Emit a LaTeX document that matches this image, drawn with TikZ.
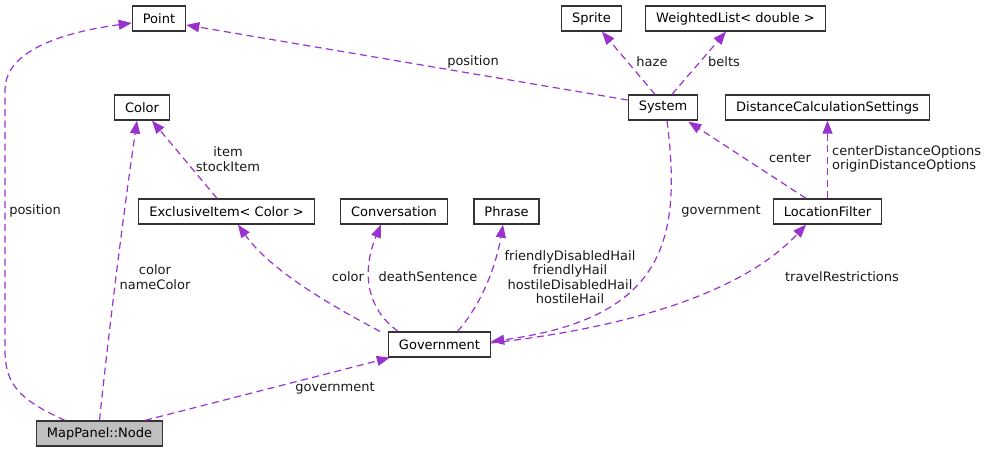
\documentclass[tikz,border=0pt]{standalone}
\usepackage{fontspec}
\setmainfont{DejaVu Sans}
\usetikzlibrary{arrows.meta,calc}

\definecolor{edgepurple}{HTML}{9A32CD}
\definecolor{boxgray}{HTML}{BFBFBF}

\tikzset{
  cls/.style={draw=black!80,line width=1.3pt,fill=white,minimum height=25pt,
    inner xsep=10.5pt,inner ysep=0pt},
  rel/.style={draw=edgepurple,line width=1.2pt,dash pattern=on 7pt off 4.5pt,
    -{Triangle[length=13pt,width=10pt]}},
  lbl/.style={align=center,inner sep=0pt,text=black!90}
}

\begin{document}
\begin{tikzpicture}[x=1pt,y=-1pt,font=\fontsize{13}{14.5}\selectfont]
  \useasboundingbox (0,0) rectangle (987,453);

  % classes, placed at their pixel centres
  \node[cls] (point) at (159,18.5) {Point};
  \node[cls] (sprite) at (591.5,18.5) {Sprite};
  \node[cls] (wlist) at (735.5,18.5) {WeightedList< double >};
  \node[cls] (color) at (142,107.5) {Color};
  \node[cls] (system) at (663,107.5) {System};
  \node[cls] (distcalc) at (827.5,107.5) {DistanceCalculationSettings};
  \node[cls] (exclusive) at (226.5,211.5) {ExclusiveItem< Color >};
  \node[cls] (conversation) at (394,211.5) {Conversation};
  \node[cls] (phrase) at (506.5,211.5) {Phrase};
  \node[cls] (locfilter) at (827.5,211.5) {LocationFilter};
  \node[cls] (gov) at (439.5,344.5) {Government};
  \node[cls,fill=boxgray] (mapnode) at (99.5,433.5) {MapPanel::Node};

  % uses of Point, Sprite, WeightedList
  \draw[rel] ($(mapnode.north)+(-34.5,0)$) .. controls (20,400) and (5,385) .. (5,350)
    -- (5,90) .. controls (5,45) and (80,30) .. ($(point.west)+(0,4.5)$);
  \draw[rel] ($(system.west)+(0,-7.5)$) -- ($(point.east)+(0,6.5)$);
  \draw[rel] ($(system.north)+(-8,0)$) -- ($(sprite.south)+(10.5,0)$);
  \draw[rel] ($(system.north)+(9,0)$) -- ($(wlist.south)+(-9.5,0)$);

  % uses of Color
  \draw[rel] ($(exclusive.north)+(-9.5,0)$) -- ($(color.south)+(10,0)$);
  \draw[rel] (mapnode.north) .. controls (110,320) and (124,210) .. ($(color.south)+(-5,0)$);

  % members of Government
  \draw[rel] ($(gov.north)+(-59.5,0)$) .. controls (330,305) and (270,270)
    .. ($(exclusive.south)+(11.5,0)$);
  \draw[rel] ($(gov.north)+(-41.5,0)$) .. controls (362,305) and (364,265)
    .. ($(conversation.south)+(-13,0)$);
  \draw[rel] ($(gov.north)+(18,0)$) .. controls (485,300) and (497,260)
    .. ($(phrase.south)+(-3.5,0)$);
  \draw[rel] ($(gov.east)+(0,-1.5)$) .. controls (650,325) and (750,285)
    .. ($(locfilter.south)+(-21.5,0)$);

  % System, LocationFilter and MapPanel::Node
  \draw[rel] ($(system.south)+(4,0)$) .. controls (682,240) and (665,318)
    .. ($(gov.east)+(0,-3)$);
  \draw[rel] ($(locfilter.north)+(-21.5,0)$) -- ($(system.south east)+(-10,1)$);
  \draw[rel] (locfilter) -- (distcalc);
  \draw[rel] ($(mapnode.north)+(45.5,0)$) -- ($(gov.south west)+(2,0)$);

  % edge labels
  \node[lbl] (l-pos1) at (35,211) {position};
  \node[lbl] (l-pos2) at (473,62) {position};
  \node[lbl] (l-haze) at (652,62) {haze};
  \node[lbl] (l-belts) at (724,62) {belts};
  \node[lbl] (l-item) at (228,159) {item\\stockItem};
  \node[lbl] (l-ncol) at (155,277) {color\\nameColor};
  \node[lbl] (l-col) at (348,277) {color};
  \node[lbl] (l-death) at (428,277) {deathSentence};
  \node[lbl] (l-hail) at (570,277) {friendlyDisabledHail\\friendlyHail\\hostileDisabledHail\\hostileHail};
  \node[lbl] (l-gov1) at (721,211) {government};
  \node[lbl] (l-center) at (790,158) {center};
  \node[lbl,anchor=west,align=left] (l-dist) at (832,159) {centerDistanceOptions\\originDistanceOptions};
  \node[lbl] (l-travel) at (842,277) {travelRestrictions};
  \node[lbl] (l-gov2) at (335,388) {government};
\end{tikzpicture}
\end{document}
